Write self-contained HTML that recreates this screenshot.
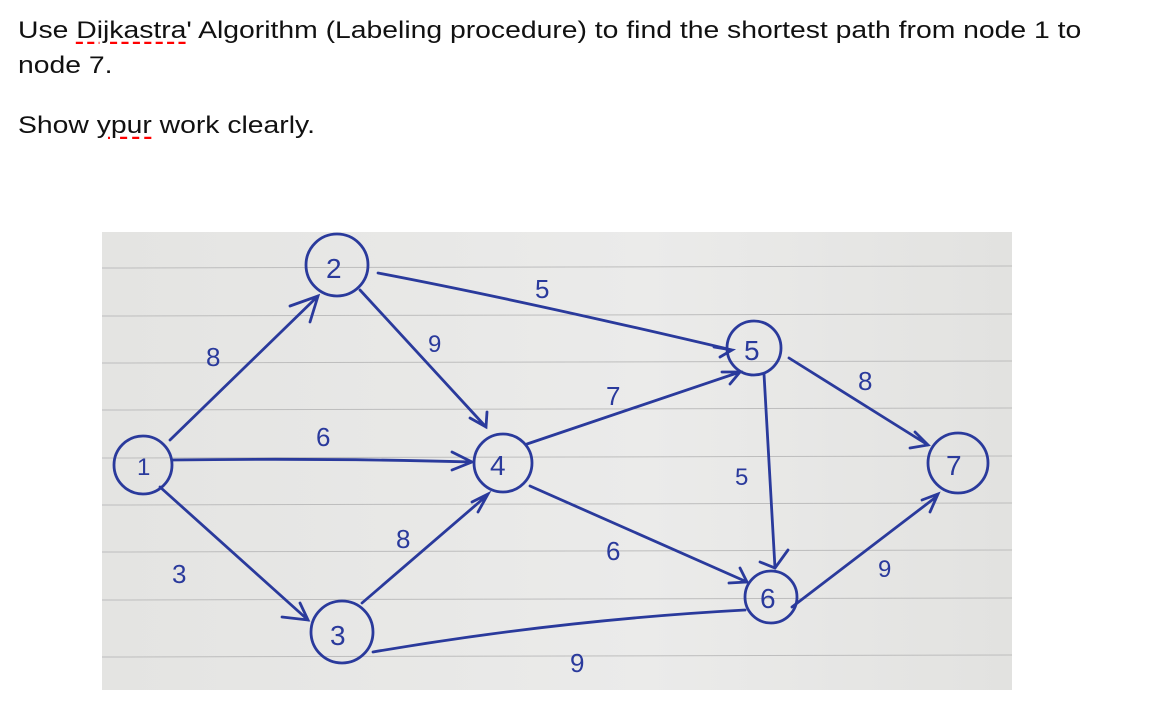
<!DOCTYPE html>
<html><head><style>
body{margin:0;background:#fff;width:1158px;height:722px;overflow:hidden;font-family:"Liberation Sans",sans-serif;}
.t{position:absolute;left:18px;font-size:24px;color:#111;white-space:nowrap;transform:scaleX(1.18);transform-origin:0 0;}
.sq{text-decoration:underline dashed red;text-underline-offset:4px;}
</style></head><body>
<div class="t" style="top:17px">Use <span class="sq">Dijkastra</span>' Algorithm (Labeling procedure) to find the shortest path from node 1 to</div>
<div class="t" style="top:52px">node 7.</div>
<div class="t" style="top:112px">Show <span class="sq">ypur</span> work clearly.</div>
<svg style="position:absolute;left:102px;top:232px" width="910" height="458" viewBox="102 232 910 458">
<defs><linearGradient id="g" x1="0" x2="1"><stop offset="0" stop-color="#e4e4e2"/><stop offset="0.6" stop-color="#ebebea"/><stop offset="1" stop-color="#e2e2e0"/></linearGradient></defs>
<rect x="102" y="232" width="910" height="458" fill="url(#g)"/>
<g stroke="#bdbdbd" stroke-width="1">
<line x1="102" y1="268" x2="1012" y2="266"/><line x1="102" y1="316" x2="1012" y2="314"/>
<line x1="102" y1="363" x2="1012" y2="361"/><line x1="102" y1="410" x2="1012" y2="408"/>
<line x1="102" y1="458" x2="1012" y2="456"/><line x1="102" y1="505" x2="1012" y2="503"/>
<line x1="102" y1="552" x2="1012" y2="550"/><line x1="102" y1="600" x2="1012" y2="598"/>
<line x1="102" y1="657" x2="1012" y2="655"/>
</g>
<g fill="none" stroke="#2a3a9c" stroke-width="2.8" stroke-linecap="round">
<circle cx="143" cy="465" r="29"/><circle cx="337" cy="265" r="31"/>
<circle cx="342" cy="632" r="31"/><circle cx="503" cy="463" r="29"/>
<circle cx="754" cy="348" r="27"/><circle cx="771" cy="597" r="26"/>
<circle cx="958" cy="463" r="30"/>
<path d="M170 440 L318 296 M290 306 L318 296 L310 322"/>
<path d="M172 460 Q330 458 472 462 M452 452 L472 462 L452 470"/>
<path d="M160 487 L308 620 M282 617 L308 620 L300 603"/>
<path d="M360 290 L486 427 M470 418 L486 427 L487 412"/>
<path d="M362 603 L484 498 M472 502 L488 494 L478 512"/>
<path d="M378 273 Q520 300 732 350 M714 347 L732 350 L720 357"/>
<path d="M527 444 L740 372 M722 372 L740 372 L730 384"/>
<path d="M530 486 L747 582 M729 583 L747 582 L740 568"/>
<path d="M373 652 Q560 620 745 610"/>
<path d="M764 374 L775 568 M760 562 L775 568 L788 550"/>
<path d="M789 358 L928 445 M910 448 L928 445 L915 432"/>
<path d="M792 607 L936 497 M922 500 L938 494 L930 512"/>
</g>
<g fill="#2a3a9c" font-family="Liberation Sans,sans-serif" font-size="28">
<text x="326" y="278">2</text><text x="137" y="475" font-size="24">1</text>
<text x="330" y="645">3</text><text x="490" y="475">4</text>
<text x="744" y="360">5</text><text x="760" y="608">6</text><text x="946" y="475">7</text>
<text x="206" y="366" font-size="26">8</text><text x="316" y="446" font-size="26">6</text>
<text x="172" y="583" font-size="26">3</text><text x="396" y="548" font-size="26">8</text>
<text x="428" y="352" font-size="24">9</text><text x="535" y="298" font-size="26">5</text>
<text x="606" y="405" font-size="26">7</text><text x="606" y="560" font-size="26">6</text>
<text x="570" y="672" font-size="26">9</text><text x="735" y="485" font-size="24">5</text>
<text x="858" y="390" font-size="26">8</text><text x="878" y="577" font-size="24">9</text>
</g>
</svg>
</body></html>
